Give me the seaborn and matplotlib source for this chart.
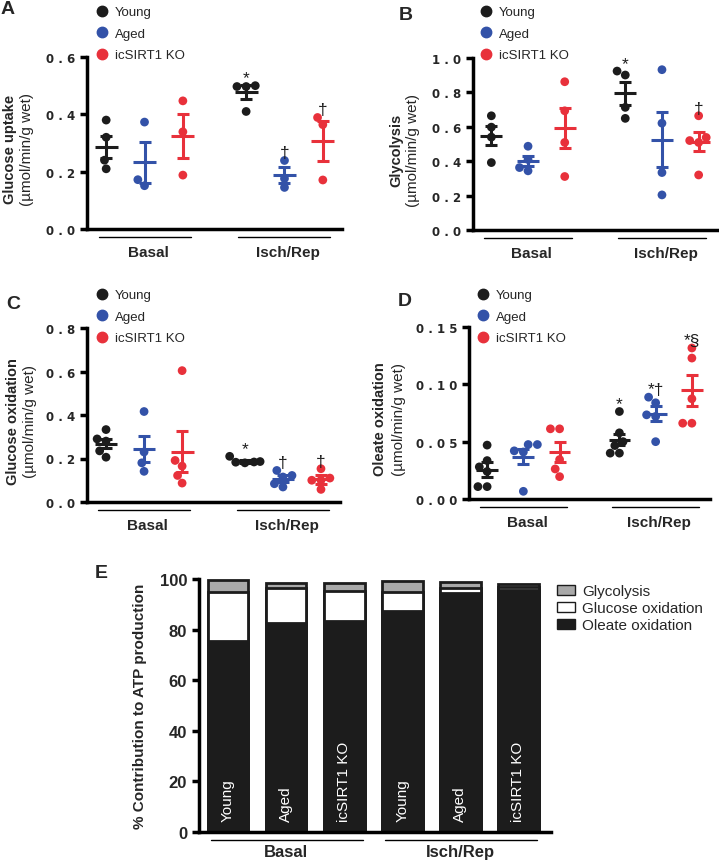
import numpy as np
import pandas as pd
import seaborn as sns
import matplotlib.pyplot as plt
from matplotlib.lines import Line2D
from matplotlib.patches import Patch
from matplotlib.transforms import blended_transform_factory

# === data ===
groups = ["Young", "Aged", "icSIRT1 KO"]
conditions = ["Basal", "Isch/Rep"]
colors = {"Young": "#1c1c1c", "Aged": "#3352a8", "icSIRT1 KO": "#e8313b"}

# A - glucose uptake
uptake_pts = [
    [0.38, 0.21, 0.24, 0.32],
    [0.373, 0.151, 0.172],
    [0.447, 0.339, 0.188],
    [0.497, 0.497, 0.50, 0.41],
    [0.239, 0.145, 0.176],
    [0.389, 0.364, 0.171],
]
uptake_mean = [0.287, 0.232, 0.325, 0.478, 0.188, 0.307]
uptake_sem = [0.039, 0.070, 0.076, 0.023, 0.027, 0.069]
uptake_sig = ["", "", "", "*", "†", "†"]

# B - glycolysis
glyco_pts = [
    [0.664, 0.598, 0.54, 0.392],
    [0.487, 0.344, 0.363, 0.41],
    [0.862, 0.693, 0.509, 0.311],
    [0.901, 0.924, 0.713, 0.649],
    [0.932, 0.621, 0.334, 0.204],
    [0.664, 0.538, 0.509, 0.52, 0.32],
]
glyco_mean = [0.548, 0.402, 0.594, 0.794, 0.524, 0.513]
glyco_sem = [0.056, 0.031, 0.118, 0.068, 0.160, 0.054]
glyco_sig = ["", "", "", "*", "", "†"]

# C - glucose oxidation
gox_pts = [
    [0.333, 0.206, 0.235, 0.28, 0.29],
    [0.416, 0.23, 0.18, 0.141],
    [0.604, 0.191, 0.165, 0.122, 0.087],
    [0.21, 0.186, 0.184, 0.183, 0.18],
    [0.145, 0.122, 0.069, 0.084, 0.115],
    [0.153, 0.11, 0.10, 0.058, 0.10],
]
gox_mean = [0.268, 0.242, 0.232, 0.188, 0.107, 0.104]
gox_sem = [0.022, 0.060, 0.093, 0.007, 0.016, 0.019]
gox_sig = ["", "", "", "*", "†", "†"]

# D - oleate oxidation
ole_pts = [
    [0.047, 0.0335, 0.024, 0.0108, 0.0108, 0.028],
    [0.0475, 0.0475, 0.042, 0.0067, 0.041],
    [0.0612, 0.0612, 0.0344, 0.0262, 0.0195],
    [0.0763, 0.0577, 0.0466, 0.040, 0.040, 0.050],
    [0.0888, 0.0839, 0.072, 0.0734, 0.050],
    [0.1317, 0.1229, 0.0874, 0.0661, 0.0661],
]
ole_mean = [0.0256, 0.037, 0.0408, 0.0518, 0.0743, 0.0947]
ole_sem = [0.0065, 0.0066, 0.0085, 0.005, 0.0066, 0.0135]
ole_sig = ["", "", "", "*", "*†", "*§"]

# E - % contribution to ATP production
atp_labels = ["Young", "Aged", "icSIRT1 KO", "Young", "Aged", "icSIRT1 KO"]
atp_oleate = [75.5, 82.5, 83.5, 87.5, 94.5, 95.5]
atp_glucose = [19.3, 13.8, 11.8, 7.2, 1.8, 1.2]
atp_glycolysis = [5.0, 2.3, 3.3, 4.5, 2.4, 1.5]

# x positions of the six groups (two clusters of three)
xpos = [0, 1, 2, 3.65, 4.65, 5.65]

sns.set_style("ticks")
plt.rcParams["font.family"] = ["Liberation Sans", "DejaVu Sans"]

W, H = 719, 862
fig = plt.figure(figsize=(W / 100, H / 100), dpi=100)


def px_axes(left, top, right, bottom):
    return fig.add_axes([left / W, 1 - bottom / H, (right - left) / W, (bottom - top) / H])


def style_axis(ax):
    sns.despine(ax=ax)
    for s in ["left", "bottom"]:
        ax.spines[s].set_linewidth(2.5)
        ax.spines[s].set_color("black")
    ax.tick_params(axis="y", length=5, width=2.5, pad=3.5, color="black")
    ax.tick_params(axis="x", length=0)
    ax.set_xticks([])
    ax.set_xlabel("")


def dot_panel(ax, pts, means, sems, sig, ymax, step, decimals, label, legend_xy):
    rows = []
    for i, vals in enumerate(pts):
        for v in vals:
            rows.append({"x": xpos[i], "value": v, "group": groups[i % 3]})
    df = pd.DataFrame(rows)
    sns.swarmplot(data=df, x="x", y="value", hue="group", hue_order=groups,
                  palette=colors, native_scale=True, orient="x", size=6.3,
                  linewidth=0, legend=False, ax=ax, zorder=3)
    for i in range(6):
        c = colors[groups[i % 3]]
        ax.hlines(means[i], xpos[i] - 0.3, xpos[i] + 0.3, color=c, lw=2.2, zorder=4)
        ax.errorbar(xpos[i], means[i], yerr=sems[i], fmt="none", ecolor=c,
                    elinewidth=2.2, capsize=4.5, capthick=2.2, zorder=4)
        if sig[i]:
            top = max(max(pts[i]), means[i] + sems[i])
            ax.text(xpos[i], top, sig[i], ha="center", va="bottom",
                    fontsize=12.5, color="#1c1c1c")

    ax.set_xlim(-0.5, 6.15)
    ax.set_ylim(0, ymax)
    ticks = np.arange(0, ymax + step / 2, step)
    ax.set_yticks(ticks, labels=[" ".join(f"{t:.{decimals}f}") for t in ticks],
                  fontsize=8.5, fontweight="bold", fontfamily="DejaVu Sans")
    ax.set_ylabel("")
    style_axis(ax)

    # two-line y label
    bold_txt, unit_txt = label
    w = ax.get_position().width * W
    ax.text(-legend_xy[2] / w, 0.47, bold_txt, rotation=90, ha="center", va="center",
            fontsize=10.5, fontweight="bold", transform=ax.transAxes)
    ax.text(-legend_xy[3] / w, 0.47, unit_txt, rotation=90, ha="center", va="center",
            fontsize=11, transform=ax.transAxes)

    # condition brackets under the x axis
    tr = blended_transform_factory(ax.transData, ax.transAxes)
    for k, cond in enumerate(conditions):
        a, b = xpos[3 * k], xpos[3 * k + 2]
        ax.plot([a - 0.2, b + 0.2], [-0.047, -0.047], color="black", lw=1,
                transform=tr, clip_on=False)
        ax.text((a + b) / 2 + 0.1, -0.135, cond, ha="center", va="center",
                fontsize=11, fontweight="bold", transform=tr)

    handles = [Line2D([], [], marker="o", ls="", color=colors[g], markersize=7.5) for g in groups]
    ax.legend(handles, groups, loc="upper left", bbox_to_anchor=legend_xy[:2],
              bbox_transform=fig.transFigure, frameon=False, fontsize=9.5,
              handlelength=1.0, handletextpad=0.5, labelspacing=0.7,
              borderpad=0, borderaxespad=0)


axA = px_axes(87, 58, 342, 230)
dot_panel(axA, uptake_pts, uptake_mean, uptake_sem, uptake_sig, 0.6, 0.2, 1,
          ("Glucose uptake", "(µmol/min/g wet)"), (95 / W, 1 - 7 / H, 76.5, 60))

axB = px_axes(473, 59, 717, 231)
dot_panel(axB, glyco_pts, glyco_mean, glyco_sem, glyco_sig, 1.0, 0.2, 1,
          ("Glycolysis", "(µmol/min/g wet)"), (479 / W, 1 - 7 / H, 76.5, 59.5))

axC = px_axes(87, 329, 340, 503)
dot_panel(axC, gox_pts, gox_mean, gox_sem, gox_sig, 0.8, 0.2, 1,
          ("Glucose oxidation", "(µmol/min/g wet)"), (95 / W, 1 - 290 / H, 73.5, 57))

axD = px_axes(469, 328, 710, 500)
dot_panel(axD, ole_pts, ole_mean, ole_sem, ole_sig, 0.15, 0.05, 2,
          ("Oleate oxidation", "(µmol/min/g wet)"), (476 / W, 1 - 290 / H, 88.5, 69.5))

# === E: stacked bars ===
axE = px_axes(199, 580, 551, 833)
idx = list(range(len(atp_labels)))
tot = np.array(atp_oleate) + np.array(atp_glucose) + np.array(atp_glycolysis)
mid = np.array(atp_oleate) + np.array(atp_glucose)
for vals, col in [(tot, "#a9a9a9"), (mid, "white"), (np.array(atp_oleate), "#1c1c1c")]:
    sns.barplot(x=idx, y=vals, color=col, edgecolor="#1c1c1c", linewidth=2,
                width=0.7, saturation=1, errorbar=None, ax=axE)
for i, lab in enumerate(atp_labels):
    axE.text(i, 4.3, lab, rotation=90, ha="center", va="bottom", color="white", fontsize=11)

axE.set_xlim(-0.5, 5.56)
axE.set_ylim(0, 100)
axE.set_yticks(range(0, 101, 20), labels=[str(v) for v in range(0, 101, 20)],
               fontsize=12, fontweight="bold")
axE.set_ylabel("")
style_axis(axE)
axE.text(-59 / 352, 0.5, "% Contribution to ATP production", rotation=90, ha="center",
         va="center", fontsize=11, fontweight="bold", transform=axE.transAxes)

trE = blended_transform_factory(axE.transData, axE.transAxes)
for k, cond in enumerate(conditions):
    a, b = 3 * k, 3 * k + 2
    axE.plot([a - 0.3, b + 0.32], [-0.03, -0.03], color="black", lw=1,
             transform=trE, clip_on=False)
    axE.text((a + b) / 2, -0.079, cond, ha="center", va="center",
             fontsize=12, fontweight="bold", transform=trE)

leg_handles = [Patch(facecolor="#a9a9a9", edgecolor="#1c1c1c", lw=1),
               Patch(facecolor="white", edgecolor="#1c1c1c", lw=1),
               Patch(facecolor="#1c1c1c", edgecolor="#1c1c1c", lw=1)]
axE.legend(leg_handles, ["Glycolysis", "Glucose oxidation", "Oleate oxidation"],
           loc="upper left", bbox_to_anchor=(557 / W, 1 - 585 / H),
           bbox_transform=fig.transFigure, frameon=False, fontsize=11,
           handlelength=1.2, handleheight=0.65, handletextpad=0.45,
           labelspacing=0.2, borderpad=0, borderaxespad=0)

# panel letters
for letter, (x, y) in zip("ABCDE", [(8, 10), (406, 15), (13, 305), (405, 302), (101, 573)]):
    fig.text(x / W, 1 - y / H, letter, ha="center", va="center",
             fontsize=14, fontweight="bold")

plt.savefig("out.png", dpi=100)
plt.close()
